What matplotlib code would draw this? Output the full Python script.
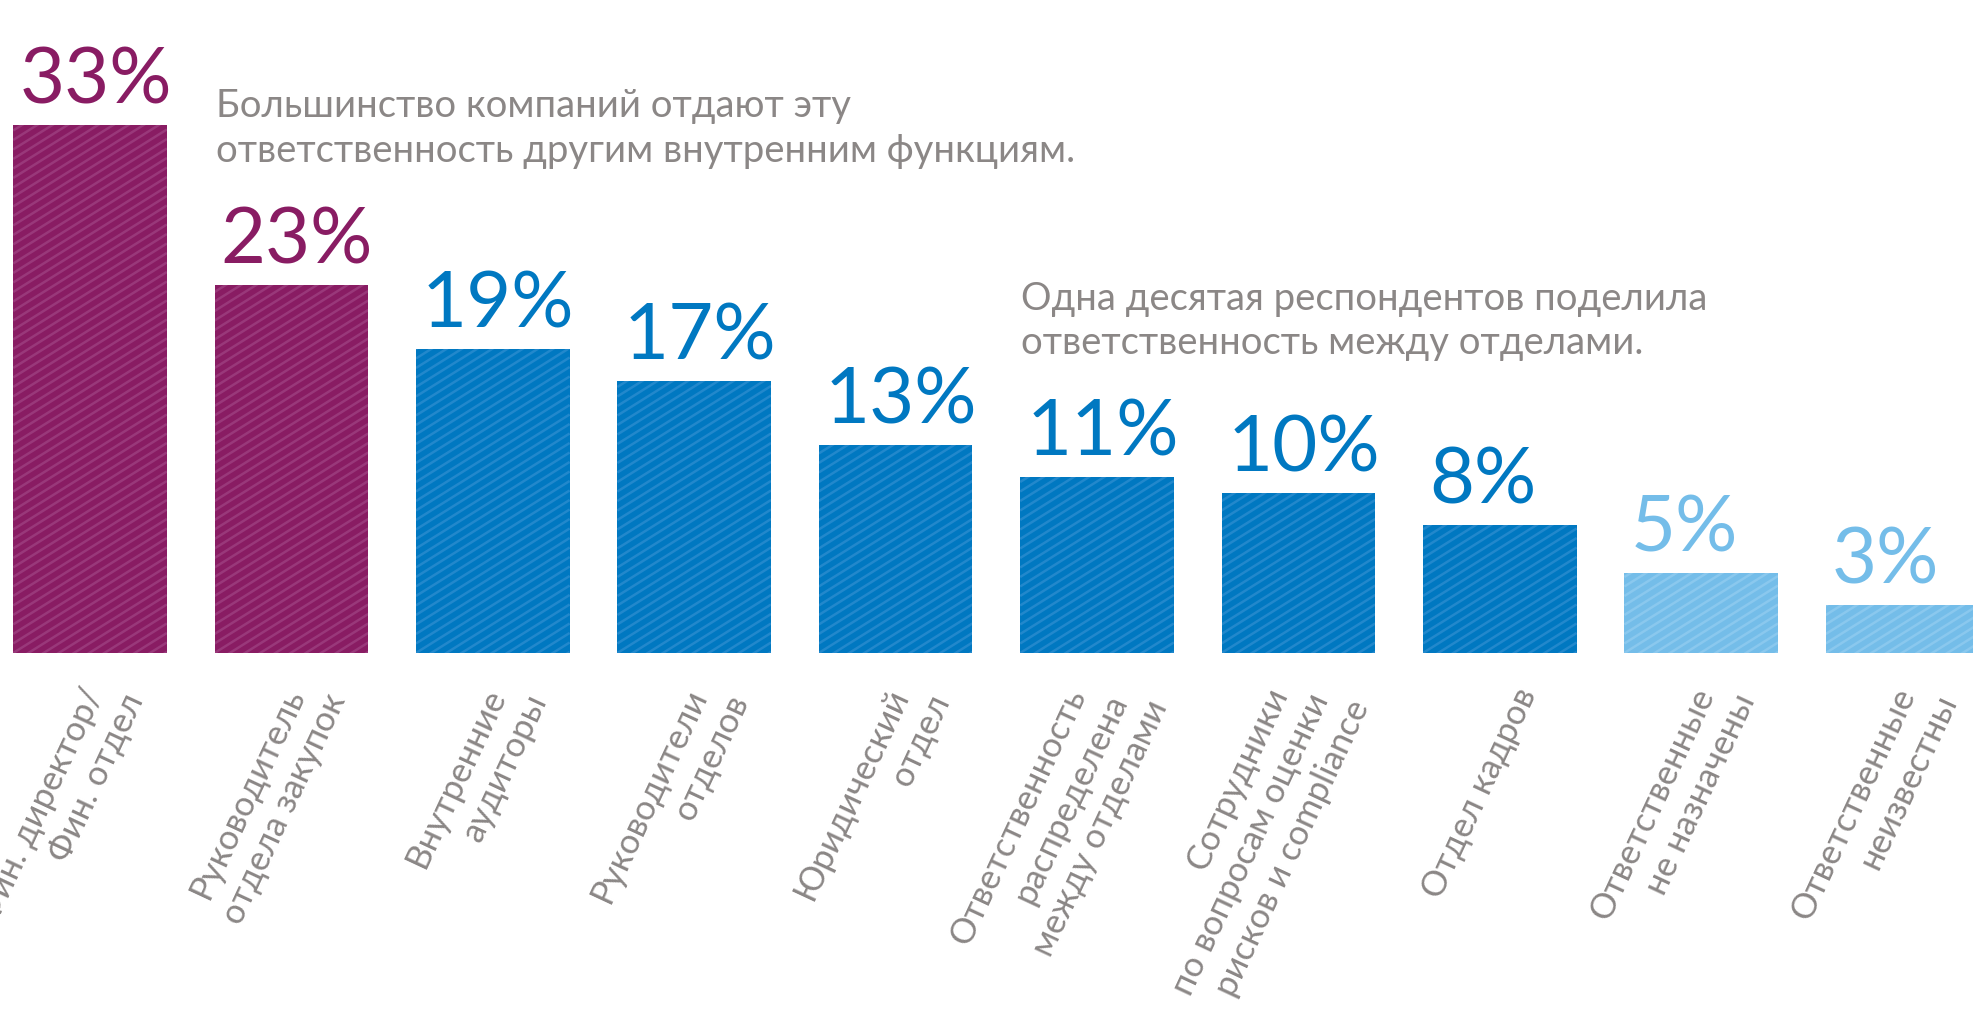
import math
import matplotlib
matplotlib.use('Agg')
import matplotlib.pyplot as plt
import numpy as np

plt.rcParams['font.family'] = ['Lato', 'Noto Sans', 'DejaVu Sans']

# data
categories = [
    'Фин. директор/\nФин. отдел',
    'Руководитель\nотдела закупок',
    'Внутренние\nаудиторы',
    'Руководители\nотделов',
    'Юридический\nотдел',
    'Ответственность\nраспределена\nмежду отделами',
    'Сотрудники\nпо вопросам оценки\nрисков и compliance',
    'Отдел кадров',
    'Ответственные\nне назначены',
    'Ответственные\nнеизвестны',
]
values = [33, 23, 19, 17, 13, 11, 10, 8, 5, 3]
groups = ['fin', 'fin', 'int', 'int', 'int', 'int', 'int', 'int', 'none', 'none']

note_1 = ['Большинство компаний отдают эту',
          'ответственность другим внутренним функциям.']
note_2 = ['Одна десятая респондентов поделила',
          'ответственность между отделами.']

fill = {'fin': '#891c63', 'int': '#0078c1', 'none': '#74bde9'}
stripe = {'fin': '#99387a', 'int': '#2288cc', 'none': '#8ac8ee'}
grey = '#8b8786'

W, H = 1974, 1026
x0_px, pitch_px = 90, 201.4   # first bar centre, bar pitch
base_px, unit_px = 653, 16.0  # baseline row, pixels per percent

fig = plt.figure(figsize=(W / 100, H / 100), dpi=100)
ax = fig.add_axes([0, 0, 1, 1])
ax.set_xlim(-x0_px / pitch_px, (W - x0_px) / pitch_px)
ax.set_ylim(-(H - base_px) / unit_px, base_px / unit_px)
ax.axis('off')


def px(xp, yp):
    '''pixel position (from top left) to data coords'''
    return (xp - x0_px) / pitch_px, (base_px - yp) / unit_px


x = np.arange(len(values))
width = 0.763
bars = ax.bar(x, values, width, color=[fill[g] for g in groups], linewidth=0, zorder=2)

# thin diagonal stripes inside the bars
slope = math.tan(math.radians(32)) * pitch_px / unit_px
gap = 9.5 / unit_px
for bar, g in zip(bars, groups):
    xl, xr = bar.get_x(), bar.get_x() + bar.get_width()
    top = bar.get_height()
    k0 = int(-(slope * (xr - xl)) / gap) - 2
    k1 = int(top / gap) + 2
    for k in range(k0, k1):
        y_start = k * gap
        ln, = ax.plot([xl, xr], [y_start, y_start + slope * (xr - xl)],
                      color=stripe[g], lw=1.8, zorder=3, solid_capstyle='butt')
        ln.set_clip_path(bar)

# value labels
for bar, v, g in zip(bars, values, groups):
    ax.text(bar.get_x() + 0.03, v + 21 / unit_px, f'{v}%', color=fill[g],
            fontsize=56, fontweight='normal', ha='left', va='baseline', zorder=4)

# rotated category labels, one line at a time
for i, lab in enumerate(categories):
    lines = lab.split('\n')
    n = len(lines)
    cx = x0_px + pitch_px * i
    for k, line in enumerate(lines):
        ex = cx + 14 - (n - 1) * 24 + k * 41
        ey = 683 + k * 6
        ax.text(*px(ex, ey), line, color=grey, fontsize=25, rotation=65,
                rotation_mode='anchor', ha='right', va='top')

# notes
for k, line in enumerate(note_1):
    ax.text(*px(216, 117 + k * 45), line, color=grey, fontsize=27.5,
            ha='left', va='baseline')
for k, line in enumerate(note_2):
    ax.text(*px(1021, 310 + k * 44), line, color=grey, fontsize=27.5,
            ha='left', va='baseline')

fig.savefig('out.png', dpi=100)
